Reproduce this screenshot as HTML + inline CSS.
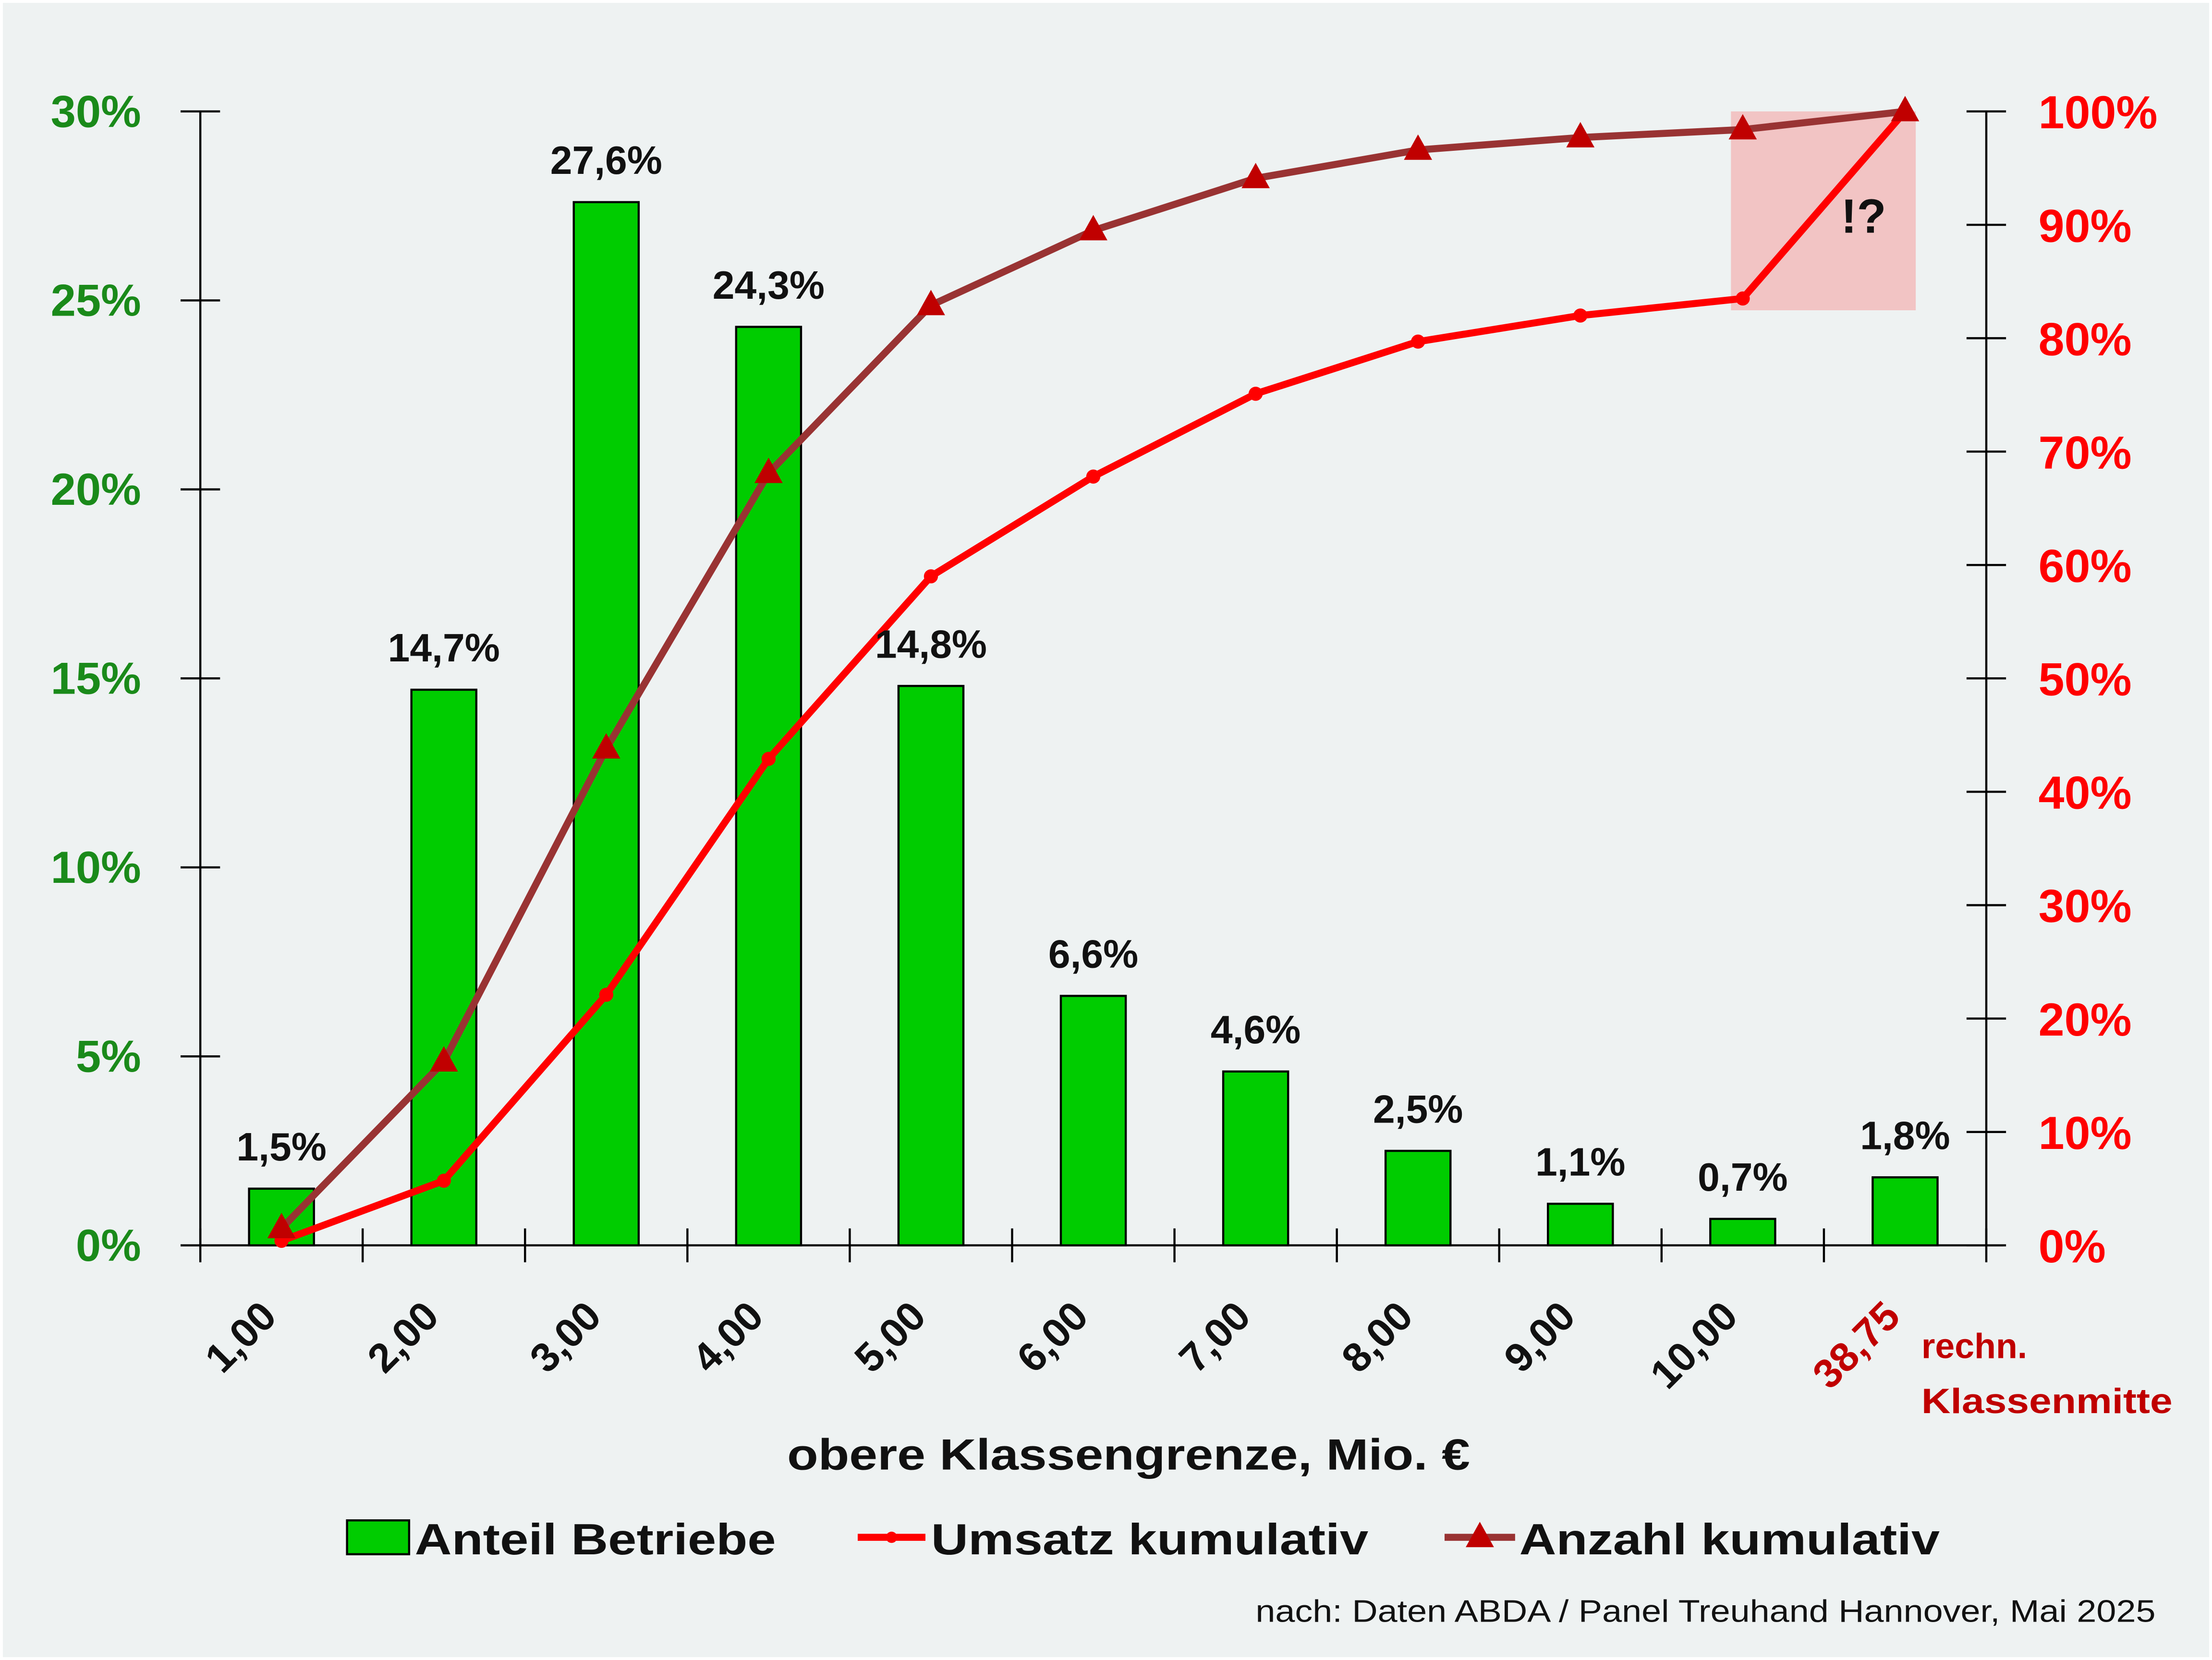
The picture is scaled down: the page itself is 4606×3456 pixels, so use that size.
<!DOCTYPE html>
<html><head><meta charset="utf-8"><style>
html,body{margin:0;padding:0;background:#fff;}
svg{display:block;}
text{font-family:"Liberation Sans",sans-serif;}
</style></head><body>
<svg id="chart" width="4606" height="3456" viewBox="0 0 1568 1177" preserveAspectRatio="none" xmlns="http://www.w3.org/2000/svg">
<rect x="2" y="2" width="1564" height="1173" fill="#eef2f2"/>
<rect x="1227" y="79" width="131" height="141" fill="#f2c4c4"/>
<g id="bars"></g>
<g id="axes"></g>
<g id="lines"></g>
<g id="labels"></g>
<text x="1321" y="165" font-size="34" font-weight="bold" text-anchor="middle" fill="#111">!?</text>
<text x="558" y="1042" font-size="31" font-weight="bold" textLength="484" lengthAdjust="spacingAndGlyphs" fill="#111">obere Klassengrenze, Mio. €</text>
<text x="1362" y="963" font-size="25" font-weight="bold" fill="#c00000">rechn.</text>
<text x="1362" y="1002" font-size="25" font-weight="bold" textLength="178" lengthAdjust="spacingAndGlyphs" fill="#c00000">Klassenmitte</text>
<g>
<rect x="246" y="1078" width="44" height="24" fill="#00cc00" stroke="#000" stroke-width="1.5"/>
<text x="294" y="1102" font-size="31" font-weight="bold" textLength="256" lengthAdjust="spacingAndGlyphs" fill="#111">Anteil Betriebe</text>
<line x1="608" y1="1090" x2="656" y2="1090" stroke="#ff0000" stroke-width="5"/>
<circle cx="632" cy="1090" r="4" fill="#ff0000"/>
<text x="660" y="1102" font-size="31" font-weight="bold" textLength="310" lengthAdjust="spacingAndGlyphs" fill="#111">Umsatz kumulativ</text>
<line x1="1024" y1="1090" x2="1074" y2="1090" stroke="#993333" stroke-width="5"/>
<polygon points="1049,1079 1059,1097 1039,1097" fill="#c00000"/>
<text x="1077" y="1102" font-size="31" font-weight="bold" textLength="298" lengthAdjust="spacingAndGlyphs" fill="#111">Anzahl kumulativ</text>
</g>
<text x="890" y="1150" font-size="22" textLength="638" lengthAdjust="spacingAndGlyphs" fill="#111">nach: Daten ABDA / Panel Treuhand Hannover,  Mai 2025</text>
</svg>
<script>
const categories=["1,00","2,00","3,00","4,00","5,00","6,00","7,00","8,00","9,00","10,00","38,75"];
const anteil=[1.5,14.7,27.6,24.3,14.8,6.6,4.6,2.5,1.1,0.7,1.8];
const umsatzKum=[0.4,5.7,22.1,42.9,59.0,67.8,75.1,79.7,82.0,83.5,100];
const anzahlKum=[1.5,16.2,43.8,68.1,82.9,89.5,94.1,96.6,97.7,98.4,100];
const leftTicks=[0,5,10,15,20,25,30];
const rightTicks=[0,10,20,30,40,50,60,70,80,90,100];
const barLabels=["1,5%","14,7%","27,6%","24,3%","14,8%","6,6%","4,6%","2,5%","1,1%","0,7%","1,8%"];

const NS="http://www.w3.org/2000/svg";
const X0=142,X1=1408,Y0=883,YT=79;
const step=(X1-X0)/categories.length;
const xc=i=>X0+step*(i+0.5);
const yL=v=>Y0-(v/30)*(Y0-YT);
const yR=v=>Y0-(v/100)*(Y0-YT);
function mk(tag,attrs,parent){const e=document.createElementNS(NS,tag);for(const k in attrs)e.setAttribute(k,attrs[k]);parent.appendChild(e);return e;}
const gB=document.getElementById('bars'),gA=document.getElementById('axes'),gL=document.getElementById('lines'),gT=document.getElementById('labels');

anteil.forEach((v,i)=>{
 const r=mk('rect',{x:xc(i)-23,y:yL(v),width:46,height:Y0-yL(v),fill:'#00cc00',stroke:'#000','stroke-width':1.5},gB);
 
 
 const t=mk('text',{x:xc(i),y:yL(v)-20,'font-size':28,'font-weight':'bold','text-anchor':'middle',fill:'#111'},gT);
 t.textContent=barLabels[i];
 
 
});

let a=mk('line',{x1:X0,y1:YT,x2:X0,y2:Y0,stroke:'#000','stroke-width':1.5},gA);


a=mk('line',{x1:X1,y1:YT,x2:X1,y2:Y0,stroke:'#000','stroke-width':1.5},gA);


a=mk('line',{x1:128,y1:Y0,x2:1420,y2:Y0,stroke:'#000','stroke-width':1.5},gA);


leftTicks.forEach(v=>{
 mk('line',{x1:128,y1:yL(v),x2:156,y2:yL(v),stroke:'#000','stroke-width':1.5},gA);
 const t=mk('text',{x:100,y:yL(v)+11,'font-size':32,'font-weight':'bold','text-anchor':'end',fill:'#1a8a1a'},gA);
 t.textContent=v+'%';
 
 
});
rightTicks.forEach(v=>{
 mk('line',{x1:1394,y1:yR(v),x2:1422,y2:yR(v),stroke:'#000','stroke-width':1.5},gA);
 const t=mk('text',{x:1445,y:yR(v)+12,'font-size':33,'font-weight':'bold',fill:'#ff0000'},gA);
 t.textContent=v+'%';
 
 
});
for(let k=0;k<=categories.length;k++){
 mk('line',{x1:X0+step*k,y1:Y0-12,x2:X0+step*k,y2:Y0+12,stroke:'#000','stroke-width':1.5},gA);
}
categories.forEach((c,i)=>{
 const x=xc(i)-2,y=935;
 const t=mk('text',{x:x,y:y,'font-size':29,'font-weight':'bold','text-anchor':'end',fill:i===10?'#c00000':'#111',transform:`rotate(-45 ${x} ${y})`},gA);
 t.textContent=c;
 
 
});

let p=mk('polyline',{points:anzahlKum.map((v,i)=>xc(i)+','+yR(v)).join(' '),fill:'none',stroke:'#993333','stroke-width':5,'stroke-linejoin':'round'},gL);


p=mk('polyline',{points:umsatzKum.map((v,i)=>xc(i)+','+yR(v)).join(' '),fill:'none',stroke:'#ff0000','stroke-width':5,'stroke-linejoin':'round'},gL);


umsatzKum.forEach((v,i)=>{
 const c=mk('circle',{cx:xc(i),cy:yR(v),r:5,fill:'#ff0000'},gL);
 
 
});
anzahlKum.forEach((v,i)=>{
 const x=xc(i),y=yR(v);
 const t=mk('polygon',{points:`${x},${y-11} ${x+10},${y+7} ${x-10},${y+7}`,fill:'#c00000'},gL);
 
 
});
</script>
</body></html>
